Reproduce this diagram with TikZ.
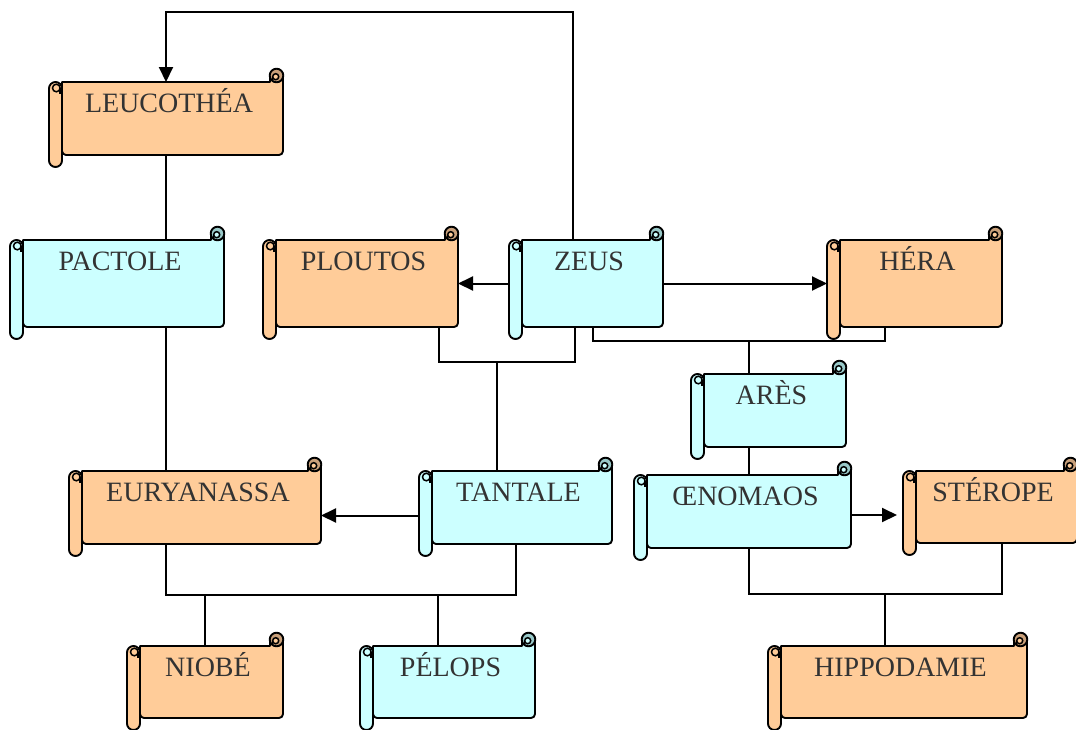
\documentclass[tikz,border=0pt]{standalone}
\usepackage{fontspec}
\setmainfont{Liberation Serif}
\usetikzlibrary{arrows.meta,calc}
\definecolor{orangefill}{HTML}{FFCC99}
\definecolor{cyanfill}{HTML}{CCFFFF}
\definecolor{orangecurl}{HTML}{C9A07A}
\definecolor{cyancurl}{HTML}{99C9C9}
\definecolor{textgrey}{HTML}{333333}
\pgfdeclarelayer{background}
\pgfsetlayers{background,main}
\tikzset{
  scrollline/.style={draw=black, line width=1.9pt, line join=round},
  curlline/.style={draw=black, line width=1.5pt},
  scrolltext/.style={inner sep=0pt, outer sep=0pt, text=textgrey,
    font=\fontsize{28}{30}\selectfont},
  conn/.style={draw=black, line width=2pt},
  arr/.style={conn, -{Triangle[length=15pt,width=14pt]}},
}
\newcommand\scrollbox[8]{%
  \pgfmathsetmacro\SBrl{#2}%
  \pgfmathsetmacro\SBrr{#2+13}%
  \pgfmathsetmacro\SBty{#3}%
  \pgfmathsetmacro\SBrx{#4}%
  \pgfmathsetmacro\SBby{#5}%
  \pgfmathsetmacro\SBcx{#4-6.5}%
  \pgfmathsetmacro\SBcy{#3-6.5}%
  \pgfmathsetmacro\SBax{#4-13}%
  \pgfmathsetmacro\SBrb{#5+12}%
  \pgfmathsetmacro\SBbw{#4-#2}%
  \pgfmathsetmacro\SBbh{#5-#3}%
  \pgfmathsetmacro\SBbd{#5-#3-30}%
  \path[scrollline, fill=#6] (\SBrr,\SBty) -- (\SBax,\SBty) -- (\SBax,\SBcy) -- (\SBrx,\SBcy)
     [rounded corners=4pt] -- (\SBrx,\SBby) -- (\SBrr,\SBby) [sharp corners] -- cycle;
  \path[scrollline, fill=#7] (\SBcx,\SBcy) circle[radius=6.8];
  \path[curlline, fill=#6] ({\SBcx-0.8},{\SBcy+1.2}) circle[radius=3];
  \draw[curlline] ({\SBcx-3.8},{\SBcy+1.2}) -- ({\SBcx-3.8},\SBty);
  \path[scrollline, fill=#6, rounded corners=6.5pt] (\SBrl,\SBty) rectangle (\SBrr,\SBrb);
  \draw[curlline] ({\SBrl+7.3},{\SBty+6}) circle[radius=3.8];
  \draw[curlline] ({\SBrl+11.1},{\SBty+6}) -- ({\SBrl+11.1},{\SBty+12});
  \node[scrolltext, anchor=north west, minimum width=\SBbw pt, minimum height=\SBbh pt,
        text height=30pt, text depth=\SBbd pt] (#1) at (\SBrl,\SBty) {\hspace*{6pt}#8};
}
\begin{document}
\begin{tikzpicture}[x=1pt,y=-1pt]
\useasboundingbox (0,0) rectangle (1076,729);
\scrollbox{leucothea}{49}{82}{283}{155}{orangefill}{orangecurl}{LEUCOTHÉA}
\scrollbox{pactole}{10}{240}{224}{327}{cyanfill}{cyancurl}{PACTOLE}
\scrollbox{ploutos}{263}{240}{458}{327}{orangefill}{orangecurl}{PLOUTOS}
\scrollbox{zeus}{509}{240}{663}{327}{cyanfill}{cyancurl}{ZEUS}
\scrollbox{hera}{827}{240}{1002}{327}{orangefill}{orangecurl}{HÉRA}
\scrollbox{ares}{691}{374}{846}{447}{cyanfill}{cyancurl}{ARÈS}
\scrollbox{euryanassa}{69}{471}{321}{544}{orangefill}{orangecurl}{EURYANASSA}
\scrollbox{tantale}{419}{471}{612}{544}{cyanfill}{cyancurl}{TANTALE}
\scrollbox{oenomaos}{634}{475}{851}{548}{cyanfill}{cyancurl}{ŒNOMAOS}
\scrollbox{sterope}{903}{471}{1077}{543}{orangefill}{orangecurl}{STÉROPE}
\scrollbox{niobe}{127}{646}{283}{718}{orangefill}{orangecurl}{NIOBÉ}
\scrollbox{pelops}{360}{646}{535}{718}{cyanfill}{cyancurl}{PÉLOPS}
\scrollbox{hippodamie}{768}{646}{1027}{718}{orangefill}{orangecurl}{HIPPODAMIE}
\coordinate (topy) at (0,12);
\coordinate (pz) at (497,362);
\coordinate (zh) at (749,341);
\coordinate (et) at (205,595);
\coordinate (os) at (885,594);
\begin{pgfonlayer}{background}
\draw[arr] ([xshift=-13pt]zeus.north) |- (topy -| leucothea.north) -- (leucothea.north);
\draw[arr] (zeus.west) -- (ploutos.east);
\draw[arr] (zeus.east) -- (hera.west);
\draw[conn] ([xshift=-19.5pt]ploutos.south east) |- ([xshift=-11pt]zeus.south |- pz) -- ([xshift=-11pt]zeus.south);
\draw[conn] (pz) -- (pz |- tantale.north);
\draw[conn] ([xshift=7pt]zeus.south) |- ([xshift=-29.5pt]hera.south |- zh) -- ([xshift=-29.5pt]hera.south);
\draw[conn] (zh) -- (zh |- ares.north);
\draw[conn] (zh |- ares.south) -- (zh |- oenomaos.north);
\draw[conn] (leucothea.south) -- (leucothea.south |- pactole.north);
\draw[conn] (leucothea.south |- pactole.south) -- (leucothea.south |- euryanassa.north);
\draw[arr] ([yshift=-8pt]tantale.west) -- ([yshift=-8pt]tantale.west -| euryanassa.east);
\draw[conn] ([xshift=-29pt]euryanassa.south) |- (tantale.south |- et) -- (tantale.south);
\draw[conn] (niobe.north |- et) -- (niobe.north);
\draw[conn] ([xshift=-9.5pt]pelops.north |- et) -- ([xshift=-9.5pt]pelops.north);
\draw[arr, shorten >=6pt] ([yshift=-3.5pt]oenomaos.east) -- ([yshift=-3.5pt]oenomaos.east -| sterope.west);
\draw[conn] ([xshift=6.5pt]oenomaos.south) |- ([xshift=12pt]sterope.south |- os) -- ([xshift=12pt]sterope.south);
\draw[conn] (os) -- (os |- hippodamie.north);
\end{pgfonlayer}
\end{tikzpicture}
\end{document}
